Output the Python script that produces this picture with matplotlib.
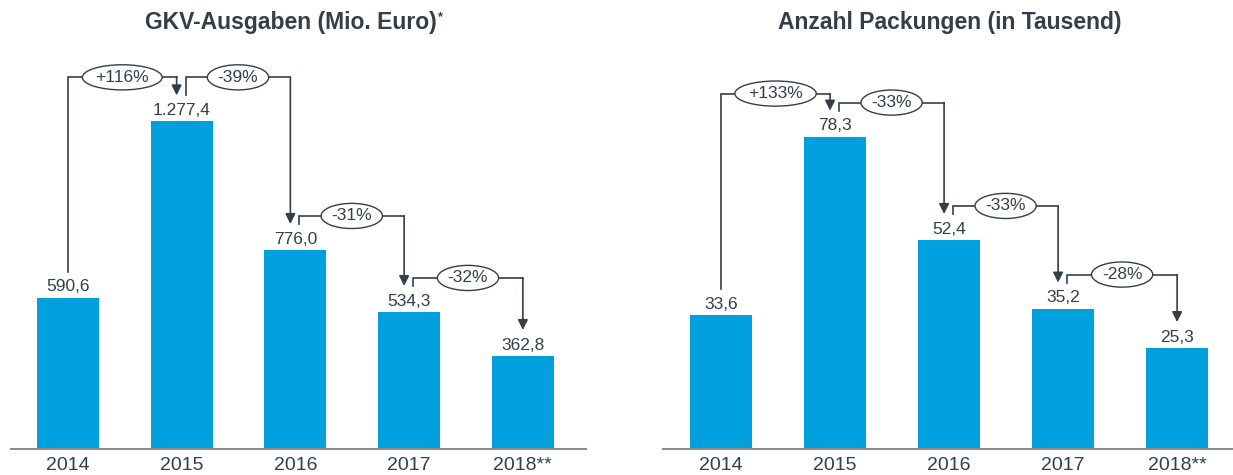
import matplotlib
matplotlib.use('Agg')
import matplotlib.pyplot as plt

# data
years = ['2014', '2015', '2016', '2017', '2018**']
gkv_ausgaben = [590.6, 1277.4, 776.0, 534.3, 362.8]
packungen = [33.6, 78.3, 52.4, 35.2, 25.3]

BLUE = '#00a0de'
DARK = '#333f48'
AXIS = '#8c8c8c'
W, H = 1233, 475

plt.rcParams['font.family'] = ['Liberation Sans', 'DejaVu Sans']


def fmt_de(v):
    s = f'{v:,.1f}'
    return s.replace(',', 'X').replace('.', ',').replace('X', '.')


def draw_panel(ax, values, ymax, xlim, gaps):
    x = list(range(len(values)))
    ax.bar(x, values, width=0.545, color=BLUE, zorder=2)
    ax.set_ylim(0, ymax)
    ax.set_xlim(*xlim)
    ax.set_xticks(x, years)
    ax.set_yticks([])
    ax.tick_params(axis='x', length=0, pad=6, labelsize=14, labelcolor=DARK)
    for s in ['left', 'right', 'top']:
        ax.spines[s].set_visible(False)
    ax.spines['bottom'].set_color(AXIS)
    ax.spines['bottom'].set_linewidth(1.5)

    # pixel -> data conversions
    py = ax.bbox.height / (ymax - 0)
    px = ax.bbox.width / (xlim[1] - xlim[0])

    for xi, v in zip(x, values):
        ax.annotate(fmt_de(v), (xi, v), xytext=(0, 4.5), textcoords='offset points',
                    ha='center', va='baseline', fontsize=12.5, color=DARK)

    top = 26 / py
    n = len(values)
    for i in range(n - 1):
        sx = x[i] + (4 / px if i > 0 else 0)
        ex = x[i + 1] - (5 / px if i + 1 < n - 1 else 0)
        sy = values[i] + top
        ey = values[i + 1] + top
        level = max(sy, ey) + gaps[i] / py
        ax.plot([sx, sx, ex], [sy, level, level], color=DARK, lw=1.2,
                solid_joinstyle='miter', clip_on=False, zorder=3)
        ax.annotate('', xy=(ex, ey), xytext=(ex, level),
                    arrowprops=dict(arrowstyle='-|>,head_length=0.6,head_width=0.3',
                                    color=DARK, lw=1.2, shrinkA=0, shrinkB=0),
                    annotation_clip=False, zorder=3)
        pct = round((values[i + 1] / values[i] - 1) * 100)
        ax.text((sx + ex) / 2, level, f'{pct:+d}%', ha='center', va='center',
                fontsize=12.5, color=DARK, zorder=4,
                bbox=dict(boxstyle='ellipse,pad=0.08', fc='white', ec=DARK, lw=1.0))


fig = plt.figure(figsize=(W / 100, H / 100), dpi=100)

ax1 = fig.add_axes([11 / W, 26 / H, 575 / W, 389 / H])
draw_panel(ax1, gkv_ausgaben, 389 / 0.2565, (-0.5, 4.555), [18, 18, 8, 8])

ax2 = fig.add_axes([663 / W, 26 / H, 570 / W, 389 / H])
draw_panel(ax2, packungen, 389 / 3.99, (-0.509, 4.49), [17, 8, 8, 8])

t1 = fig.text(291 / W, 1 - 23 / H, 'GKV-Ausgaben (Mio. Euro)', ha='center', va='center',
              fontsize=16.5, fontweight='bold', color=DARK)
ax1.annotate('*', xy=(1, 1), xycoords=t1, xytext=(1, 0), textcoords='offset points',
             ha='left', va='top', fontsize=9, fontweight='bold', color=DARK)
fig.text(950 / W, 1 - 23 / H, 'Anzahl Packungen (in Tausend)', ha='center', va='center',
         fontsize=16.5, fontweight='bold', color=DARK)

fig.savefig('out.png', dpi=100)
